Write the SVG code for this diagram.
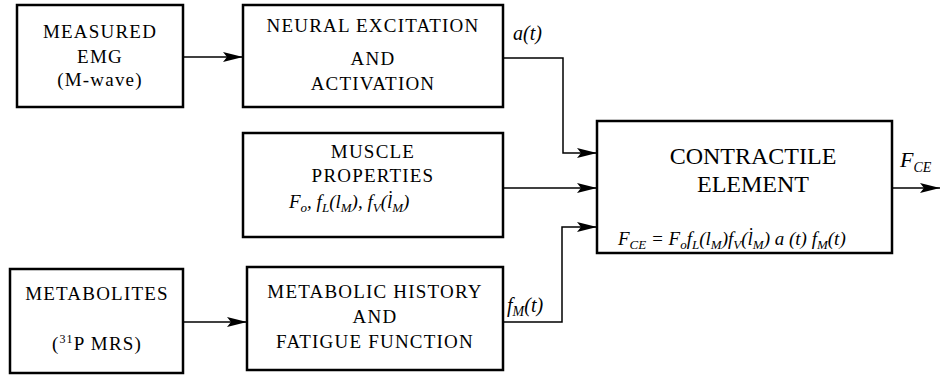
<svg xmlns="http://www.w3.org/2000/svg" width="941" height="377" viewBox="0 0 941 377" font-family="Liberation Serif, serif">
<style>
.box{fill:#fff;stroke:#000;stroke-width:2.5}
.c{fill:none;stroke:#000;stroke-width:1.5}
</style>
<defs>
<marker id="ah" markerWidth="20" markerHeight="10" refX="20" refY="5" orient="auto" markerUnits="userSpaceOnUse">
<path d="M0,0 L20,5 L0,10 L4,5 Z" fill="#000"/>
</marker>
</defs>
<g id="connectors">
<path class="c" d="M183,57 L243,57" marker-end="url(#ah)"/>
<path class="c" d="M503,58 L563,58 L563,153 L597,153" marker-end="url(#ah)"/>
<path class="c" d="M503,188 L597,188" marker-end="url(#ah)"/>
<path class="c" d="M503,322 L562,322 L562,227 L597,227" marker-end="url(#ah)"/>
<path class="c" d="M183,322 L247,322" marker-end="url(#ah)"/>
<path class="c" d="M892,188 L940,188" marker-end="url(#ah)"/>
<text style="font-family:'Liberation Serif',serif;font-style:italic;font-size:20px" x="513" y="40">a(t)</text>
<text style="font-family:'Liberation Serif',serif;font-style:italic;font-size:20px" x="507" y="312">f<tspan font-size="14" dy="4">M</tspan><tspan dy="-4">(t)</tspan></text>
<text style="font-family:'Liberation Serif',serif;font-style:italic;font-size:22px" x="900" y="167">F<tspan font-size="14" dy="5">CE</tspan></text>
</g>
<g id="emg">
<rect class="box" x="17" y="5" width="166" height="102"/>
<text style="font-family:'Liberation Serif',serif;font-size:19px;text-anchor:middle;letter-spacing:1.2px" x="100" y="38">MEASURED</text>
<text style="font-family:'Liberation Serif',serif;font-size:19px;text-anchor:middle;letter-spacing:1.2px" x="100" y="63">EMG</text>
<text style="font-family:'Liberation Serif',serif;font-size:19px;text-anchor:middle;letter-spacing:1.2px" x="100" y="86">(M-wave)</text>
</g>
<g id="neural">
<rect class="box" x="243" y="5" width="260" height="102"/>
<text style="font-family:'Liberation Serif',serif;font-size:19px;text-anchor:middle;letter-spacing:1.2px" x="373" y="32">NEURAL EXCITATION</text>
<text style="font-family:'Liberation Serif',serif;font-size:19px;text-anchor:middle;letter-spacing:1.2px" x="373" y="65">AND</text>
<text style="font-family:'Liberation Serif',serif;font-size:19px;text-anchor:middle;letter-spacing:1.2px" x="373" y="90">ACTIVATION</text>
</g>
<g id="muscle">
<rect class="box" x="243" y="133" width="260" height="104"/>
<text style="font-family:'Liberation Serif',serif;font-size:19px;text-anchor:middle;letter-spacing:1.2px" x="373" y="158">MUSCLE</text>
<text style="font-family:'Liberation Serif',serif;font-size:19px;text-anchor:middle;letter-spacing:1.2px" x="373" y="182">PROPERTIES</text>
<text style="font-family:'Liberation Serif',serif;font-style:italic;font-size:19px" x="289" y="208">F<tspan font-size="13" dy="4">o</tspan><tspan dy="-4">,  f</tspan><tspan font-size="13" dy="4">L</tspan><tspan dy="-4">(l</tspan><tspan font-size="13" dy="4">M</tspan><tspan dy="-4">), f</tspan><tspan font-size="13" dy="4">V</tspan><tspan dy="-4">(l̇</tspan><tspan font-size="13" dy="4">M</tspan><tspan dy="-4">)</tspan></text>
</g>
<g id="contractile">
<rect class="box" x="597" y="121" width="295" height="132"/>
<text style="font-family:'Liberation Serif',serif;font-size:24px;text-anchor:middle" x="753" y="164">CONTRACTILE</text>
<text style="font-family:'Liberation Serif',serif;font-size:24px;text-anchor:middle" x="753" y="192">ELEMENT</text>
<text style="font-family:'Liberation Serif',serif;font-style:italic;font-size:19px" x="618" y="245">F<tspan font-size="13" dy="4">CE</tspan><tspan dy="-4"> = F</tspan><tspan font-size="13" dy="4">o</tspan><tspan dy="-4">f</tspan><tspan font-size="13" dy="4">L</tspan><tspan dy="-4">(l</tspan><tspan font-size="13" dy="4">M</tspan><tspan dy="-4">)f</tspan><tspan font-size="13" dy="4">V</tspan><tspan dy="-4">(l̇</tspan><tspan font-size="13" dy="4">M</tspan><tspan dy="-4">) a (t) f</tspan><tspan font-size="13" dy="4">M</tspan><tspan dy="-4">(t)</tspan></text>
</g>
<g id="metabolites">
<rect class="box" x="10" y="269" width="173" height="104"/>
<text style="font-family:'Liberation Serif',serif;font-size:19px;text-anchor:middle;letter-spacing:1.2px" x="97" y="300">METABOLITES</text>
<text style="font-family:'Liberation Serif',serif;font-size:19px;text-anchor:middle;letter-spacing:1.2px" x="97" y="350">(<tspan font-size="12" dy="-7">31</tspan><tspan dy="7">P  MRS)</tspan></text>
</g>
<g id="metabolic">
<rect class="box" x="247" y="267" width="256" height="103"/>
<text style="font-family:'Liberation Serif',serif;font-size:19px;text-anchor:middle;letter-spacing:1.2px" x="375" y="298">METABOLIC HISTORY</text>
<text style="font-family:'Liberation Serif',serif;font-size:19px;text-anchor:middle;letter-spacing:1.2px" x="375" y="323">AND</text>
<text style="font-family:'Liberation Serif',serif;font-size:19px;text-anchor:middle;letter-spacing:1.2px" x="375" y="348">FATIGUE FUNCTION</text>
</g>
</svg>
